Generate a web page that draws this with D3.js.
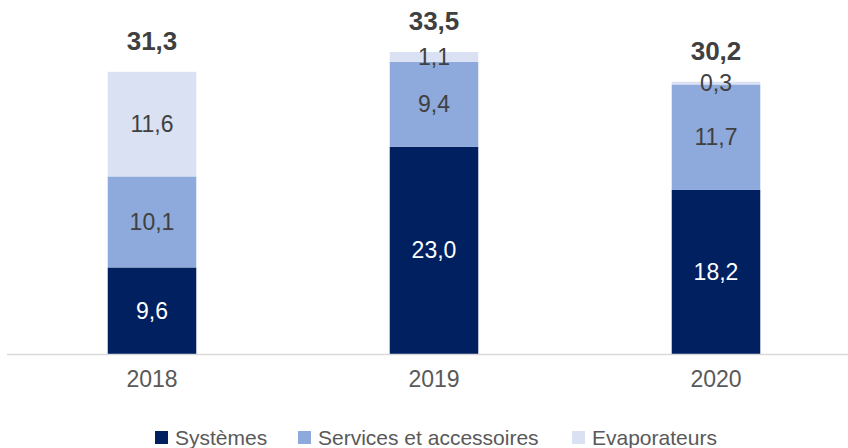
<html>
<head><meta charset="utf-8"></head>
<script src="https://d3js.org/d3.v7.min.js"></script>
<style> body {margin:0; background:#fff;} </style>
<body>
<svg width=848 height=448></svg>
<script>
const years = ["2018", "2019", "2020"];
const seriesNames = ["Systèmes", "Services et accessoires", "Evaporateurs"];
const systemes = [9.6, 23.0, 18.2];
const services = [10.1, 9.4, 11.7];
const evaporateurs = [11.6, 1.1, 0.3];
const totals = [31.3, 33.5, 30.2];
const colors = ["#002060", "#8EA9DB", "#D9E1F2"];
const labelColors = ["#ffffff", "#404040", "#404040"];

const fmt = v => v.toFixed(1).replace(".", ",");
const font = "'Liberation Sans', Arial, sans-serif";

const svg = d3.select("svg");
const baseY = 354;
const x = d3.scaleBand().domain(years).range([11, 857]).paddingInner(0.686).paddingOuter(0.343);
const y = d3.scaleLinear().domain([0, 33.5]).range([baseY, 52]);

const table = years.map((yr, i) => ({year: yr, "Systèmes": systemes[i], "Services et accessoires": services[i], "Evaporateurs": evaporateurs[i], total: totals[i]}));
const stack = d3.stack().keys(seriesNames)(table);

const layers = svg.selectAll("g.layer").data(stack).enter().append("g").attr("class", "layer")
  .attr("fill", (d, i) => colors[i]);
layers.selectAll("rect").data(d => d).enter().append("rect")
  .attr("x", d => x(d.data.year))
  .attr("width", x.bandwidth())
  .attr("y", d => y(d[1]))
  .attr("height", d => y(d[0]) - y(d[1]));

// axis line
svg.append("line").attr("x1", 7).attr("x2", 848).attr("y1", baseY + 0.5).attr("y2", baseY + 0.5)
  .attr("stroke", "#D9D9D9").attr("stroke-width", 1.5);

// segment labels
stack.forEach((s, si) => {
  svg.append("g").selectAll("text").data(s).enter().append("text")
    .attr("x", d => x(d.data.year) + x.bandwidth() / 2)
    .attr("y", d => (y(d[0]) + y(d[1])) / 2)
    .attr("dy", "0.35em")
    .attr("text-anchor", "middle")
    .style("font-family", font).style("font-size", "23px")
    .attr("fill", labelColors[si])
    .text(d => fmt(d[1] - d[0]));
});

// totals
svg.append("g").selectAll("text").data(table).enter().append("text")
  .attr("x", d => x(d.year) + x.bandwidth() / 2)
  .attr("y", d => y(d.total) - 31)
  .attr("dy", "0.35em")
  .attr("text-anchor", "middle")
  .style("font-family", font).style("font-size", "26px").style("font-weight", "bold")
  .attr("fill", "#404040")
  .text(d => fmt(d.total));

// x axis labels
const xAxis = svg.append("g").attr("transform", "translate(0," + baseY + ")")
  .call(d3.axisBottom(x).tickSize(0).tickPadding(17));
xAxis.select(".domain").remove();
xAxis.selectAll("text").style("font-family", font).style("font-size", "23px").attr("fill", "#595959");

// legend
const legendX = [155, 298, 572];
const legend = svg.append("g").selectAll("g").data(seriesNames).enter().append("g")
  .attr("transform", (d, i) => "translate(" + legendX[i] + ",438)");
legend.append("rect").attr("x", 0).attr("y", -7).attr("width", 13).attr("height", 13)
  .attr("fill", (d, i) => colors[i]);
legend.append("text").attr("x", 20).attr("dy", "0.35em")
  .style("font-family", font).style("font-size", "21px").attr("fill", "#595959")
  .text(d => d);
</script>
</body>
</html>
